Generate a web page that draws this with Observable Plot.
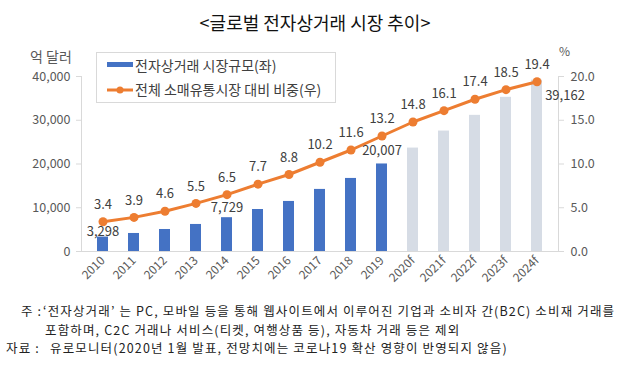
<!DOCTYPE html>
<html>
<head>
<meta charset="utf-8">
<script src="https://cdn.jsdelivr.net/npm/d3@7"></script>
<script src="https://cdn.jsdelivr.net/npm/@observablehq/plot@0.6"></script>
<style>
  html, body { margin: 0; padding: 0; background: #fff; }
  #wrap { position: relative; width: 630px; height: 370px; overflow: hidden; font-family: "Noto Sans CJK KR", "Noto Sans", sans-serif; }
  #chart { position: absolute; left: 0; top: 0; }
  .abs { position: absolute; white-space: pre; line-height: 1; }
  #title { left: 0; width: 630px; text-align: center; top: 13px; font-size: 18px; color: #111; }
  #yl { left: 30px; top: 49px; font-size: 14px; color: #595959; }
  #yr { left: 559px; top: 45px; font-size: 12px; color: #595959; }
  #legend { left: 96px; top: 52px; width: 238px; height: 49px; border: 1px solid #d9d9d9; background: #fff; }
  .lg { position: absolute; left: 38px; font-size: 14px; color: #404040; white-space: pre; line-height: 1; }
  .note { font-size: 12.5px; color: #222; letter-spacing: 1.15px; }
</style>
</head>
<body>
<div id="wrap">
  <div id="chart"></div>
  <div id="title" class="abs"></div>
  <div id="yl" class="abs"></div>
  <div id="yr" class="abs"></div>
  <div id="legend" class="abs">
    <svg width="238" height="49" style="position:absolute;left:0;top:0">
      <rect x="10" y="9" width="26" height="5" fill="#4472C4"></rect>
      <line x1="10" x2="36" y1="37" y2="37" stroke="#ED7D31" stroke-width="3"></line>
      <circle cx="23" cy="37" r="3.5" fill="#ED7D31"></circle>
    </svg>
    <div id="lg1" class="lg" style="top:5px"></div>
    <div id="lg2" class="lg" style="top:29px"></div>
  </div>
  <div id="n1a" class="abs note" style="left:21px; top:305px"></div>
  <div id="n1b" class="abs note" style="left:43px; top:305px"></div>
  <div id="n2" class="abs note" style="left:45px; top:323.5px"></div>
  <div id="n3a" class="abs note" style="left:6px; top:342px"></div>
  <div id="n3b" class="abs note" style="left:50px; top:342px"></div>
</div>
<script>
// ---- data ----
const years = ["2010","2011","2012","2013","2014","2015","2016","2017","2018","2019","2020f","2021f","2022f","2023f","2024f"];
const marketSize = [3298, 4120, 5030, 6180, 7729, 9600, 11440, 14190, 16700, 20007, 23640, 27530, 31120, 35240, 39162];
const retailShare = [3.4, 3.9, 4.6, 5.5, 6.5, 7.7, 8.8, 10.2, 11.6, 13.2, 14.8, 16.1, 17.4, 18.5, 19.4];
const labeledYears = ["2010", "2014", "2019", "2024f"];
const leftTicks = [0, 10000, 20000, 30000, 40000];
const rightTicks = [0, 5, 10, 15, 20];
const seriesNames = ["전자상거래 시장규모(좌)", "전체 소매유통시장 대비 비중(우)"];
const titleText = "<글로벌 전자상거래 시장 추이>";
const leftUnit = "억 달러";
const rightUnit = "%";
const notes = ["주 :", "‘전자상거래’ 는 PC, 모바일 등을 통해 웹사이트에서 이루어진 기업과 소비자 간(B2C) 소비재 거래를",
  "포함하며, C2C 거래나 서비스(티켓, 여행상품 등), 자동차 거래 등은 제외",
  "자료 :", "유로모니터(2020년 1월 발표, 전망치에는 코로나19 확산 영향이 반영되지 않음)"];

const ratio = 40000 / 20; // right axis (%) mapped onto left axis scale
const rows = years.map((y, i) => ({year: y, size: marketSize[i], share: retailShare[i], forecast: y.endsWith("f")}));
const byYear = y => rows.filter(d => d.year === y);

document.getElementById("title").textContent = titleText;
document.getElementById("yl").textContent = leftUnit;
document.getElementById("yr").textContent = rightUnit;
document.getElementById("lg1").textContent = seriesNames[0];
document.getElementById("lg2").textContent = seriesNames[1];
document.getElementById("n1a").textContent = notes[0];
document.getElementById("n1b").textContent = notes[1];
document.getElementById("n2").textContent = notes[2];
document.getElementById("n3a").textContent = notes[3];
document.getElementById("n3b").textContent = notes[4];

const fmt = d3.format(",");
const txt = {fontSize: 13, fill: "#404040"};

const chart = Plot.plot({
  width: 630,
  height: 300,
  marginLeft: 81,
  marginRight: 72,
  marginTop: 76,
  marginBottom: 49,
  style: {fontFamily: "Noto Sans CJK KR, Noto Sans, sans-serif", fontSize: "12px", color: "#595959", background: "transparent"},
  x: {domain: years, paddingInner: 0.65, paddingOuter: 0.325},
  y: {domain: [0, 40000], nice: false},
  marks: [
    Plot.frame({anchor: "left", stroke: "#d9d9d9"}),
    Plot.frame({anchor: "right", stroke: "#d9d9d9"}),
    Plot.barY(rows, {x: "year", y: "size", fill: d => d.forecast ? "#D6DCE5" : "#4472C4"}),
    Plot.ruleY([0], {stroke: "#d9d9d9"}),
    Plot.axisY({anchor: "left", ticks: leftTicks, tickFormat: fmt, tickSize: 5, tickPadding: 6, stroke: "#d9d9d9", fill: "#595959", fontSize: 12.5, label: null}),
    Plot.axisY({anchor: "right", ticks: rightTicks.map(t => t * ratio), tickFormat: d => (d / ratio).toFixed(1), tickSize: 5, tickPadding: 7, stroke: "#d9d9d9", fill: "#595959", fontSize: 12.5, label: null}),
    Plot.axisX({tickRotate: -45, tickSize: 0, tickPadding: 7, fill: "#595959", fontSize: 12, label: null}),
    Plot.line(rows, {x: "year", y: d => d.share * ratio, stroke: "#ED7D31", strokeWidth: 3}),
    Plot.dot(rows, {x: "year", y: d => d.share * ratio, r: 4.5, fill: "#ED7D31"}),
    Plot.text(rows, {x: "year", y: d => d.share * ratio, text: d => d.share.toFixed(1), dy: -17, ...txt}),
    Plot.text(byYear(labeledYears[0]), {x: "year", y: "size", text: d => fmt(d.size), dy: -5, ...txt}),
    Plot.text(byYear(labeledYears[1]), {x: "year", y: "size", text: d => fmt(d.size), dy: -10, ...txt}),
    Plot.text(byYear(labeledYears[2]), {x: "year", y: "size", text: d => fmt(d.size), dy: -13, ...txt}),
    Plot.text(byYear(labeledYears[3]), {x: "year", y: "size", text: d => fmt(d.size), dx: 28, dy: 16, ...txt})
  ]
});
document.getElementById("chart").appendChild(chart);
</script>
</body>
</html>
